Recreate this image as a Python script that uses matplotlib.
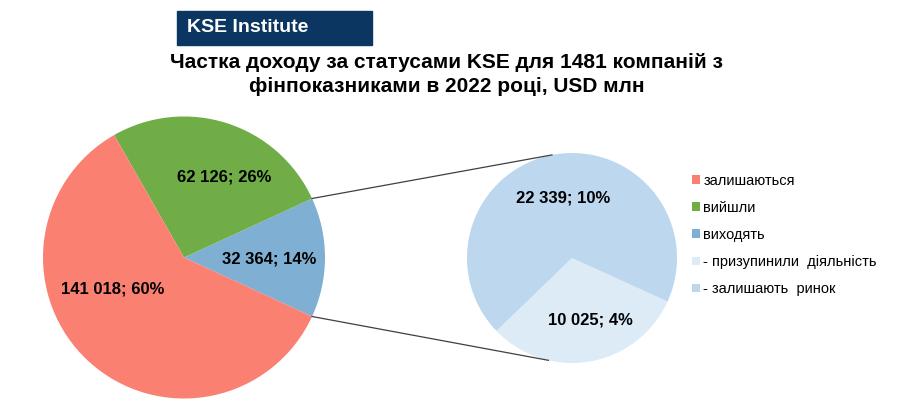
import numpy as np
import matplotlib
matplotlib.use('Agg')
import matplotlib.pyplot as plt
from matplotlib.patches import Rectangle

# data
main_labels = ['виходять', 'вийшли', 'залишаються']
main_values = [32364, 62126, 141018]
main_texts = ['32 364; 14%', '62 126; 26%', '141 018; 60%']
sub_labels = ['- призупинили  діяльність', '- залишають  ринок']
sub_values = [10025, 22339]
sub_texts = ['10 025; 4%', '22 339; 10%']

main_colors = ['#7FAFD3', '#70AD47', '#FA8072']
sub_colors = ['#DDEBF7', '#BDD7EE']

plt.rcParams['font.family'] = ['Liberation Sans', 'DejaVu Sans']

W, H = 914, 404
fig = plt.figure(figsize=(W / 100, H / 100), dpi=100)
ax = fig.add_axes([0, 0, 1, 1])

def py(y):
    return H - y

# main pie, "виходять" slice centred on the right
c1 = (184, py(257.5))
r1 = 141
half = main_values[0] / sum(main_values) * 180
w1, _ = ax.pie(main_values, colors=main_colors, startangle=-half, counterclock=True,
               center=c1, radius=r1, frame=True, wedgeprops=dict(linewidth=0))

# secondary pie
c2 = (572, py(258))
r2 = 105
w2, _ = ax.pie(sub_values, colors=sub_colors, startangle=-136, counterclock=True,
               center=c2, radius=r2, frame=True, wedgeprops=dict(linewidth=0))
ax.set_xlim(0, W)
ax.set_ylim(0, H)
ax.set_aspect('equal')
ax.axis('off')

# connector lines
for a1, a2 in [(half, 101), (-half, -103)]:
    x1 = c1[0] + r1 * np.cos(np.radians(a1))
    y1 = c1[1] + r1 * np.sin(np.radians(a1))
    x2 = c2[0] + r2 * np.cos(np.radians(a2))
    y2 = c2[1] + r2 * np.sin(np.radians(a2))
    ax.plot([x1, x2], [y1, y2], color='#404040', lw=0.9)

# data labels
lab_pos = {'32 364; 14%': (269, 259), '62 126; 26%': (224, 177), '141 018; 60%': (113, 289),
           '10 025; 4%': (590, 320), '22 339; 10%': (563, 198)}
for t in main_texts + sub_texts:
    x, y = lab_pos[t]
    ax.text(x, py(y), t, ha='center', va='center', fontsize=12, fontweight='bold')

# legend
handles = [w1[2], w1[1], w1[0], w2[0], w2[1]]
labels = [main_labels[2], main_labels[1], main_labels[0], sub_labels[0], sub_labels[1]]
fig.legend(handles, labels, loc='center left', bbox_to_anchor=(685 / W, 1 - 235 / H),
           frameon=False, fontsize=10.5, handlelength=0.55, handleheight=0.55,
           handletextpad=0.2, labelspacing=0.9, borderpad=0)

# header box
ax.add_patch(Rectangle((177, py(45)), 195, 34, color='#0B3662', zorder=3))
ax.text(187, py(28), 'KSE Institute', color='white', fontsize=14, fontweight='bold',
        va='center', ha='left', zorder=4)

# title
ax.text(447, py(62), 'Частка доходу за статусами KSE для 1481 компаній з',
        ha='center', va='center', fontsize=15, fontweight='bold')
ax.text(447, py(87), 'фінпоказниками в 2022 році, USD млн',
        ha='center', va='center', fontsize=15, fontweight='bold')

fig.savefig('out.png', dpi=100)
